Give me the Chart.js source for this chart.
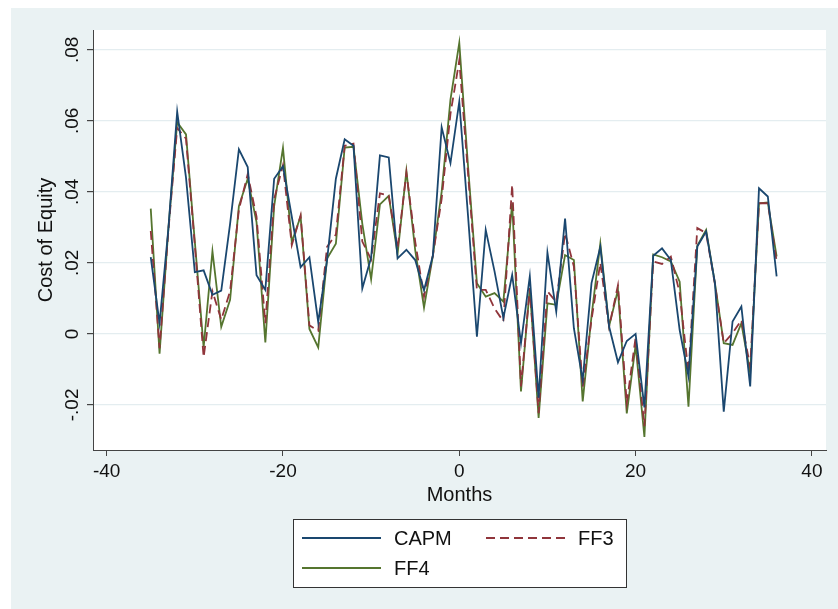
<!DOCTYPE html>
<html><head><meta charset="utf-8">
<script src="https://cdn.jsdelivr.net/npm/chart.js@4.4.0/dist/chart.umd.min.js"></script>
<style>html,body{margin:0;padding:0;background:#fff}canvas{display:block}</style>
</head><body>
<canvas id="c" width="838" height="609"></canvas>
<script>
const months = [-35,-34,-33,-32,-31,-30,-29,-28,-27,-26,-25,-24,-23,-22,-21,-20,-19,-18,-17,-16,-15,-14,-13,-12,-11,-10,-9,-8,-7,-6,-5,-4,-3,-2,-1,0,1,2,3,4,5,6,7,8,9,10,11,12,13,14,15,16,17,18,19,20,21,22,23,24,25,26,27,28,29,30,31,32,33,34,35,36];
const capm = [0.0216,0.003,0.0296,0.0626,0.044,0.0174,0.0179,0.011,0.0122,0.031,0.052,0.047,0.0165,0.0124,0.0437,0.0472,0.033,0.0188,0.0216,0.0033,0.0207,0.0437,0.0548,0.053,0.0128,0.0215,0.0503,0.0497,0.0213,0.0237,0.0208,0.0123,0.022,0.0582,0.0481,0.0654,0.033,-0.0008,0.0293,0.0176,0.0045,0.0166,-0.0026,0.0162,-0.018,0.0229,0.0063,0.0325,0.0016,-0.013,0.0143,0.0245,0.002,-0.008,-0.002,0.0,-0.0207,0.022,0.0241,0.0208,0.0011,-0.012,0.0246,0.0288,0.0143,-0.0219,0.0035,0.0077,-0.0148,0.041,0.0387,0.0162];
const ff3 = [0.029,-0.004,0.029,0.058,0.055,0.025,-0.0066,0.012,0.004,0.012,0.035,0.045,0.033,0.003,0.038,0.0475,0.025,0.0334,0.0024,0.0009,0.0245,0.028,0.053,0.0536,0.026,0.021,0.0396,0.039,0.024,0.0454,0.026,0.0105,0.022,0.038,0.062,0.077,0.045,0.0124,0.0124,0.0072,0.0035,0.042,-0.0148,0.0129,-0.0223,0.012,0.009,0.0284,0.019,-0.015,0.004,0.02,0.002,0.0137,-0.0195,-0.001,-0.026,0.0204,0.0197,0.0218,0.0115,-0.011,0.0298,0.0284,0.014,-0.0026,0.0002,0.0039,-0.0092,0.0368,0.0368,0.0204];
const ff4 = [0.0353,-0.0056,0.0296,0.0596,0.0562,0.026,-0.0038,0.0233,0.002,0.0096,0.036,0.0437,0.0315,-0.0024,0.036,0.0524,0.0259,0.0331,0.0014,-0.0038,0.0212,0.0254,0.0525,0.0527,0.031,0.0154,0.0365,0.0389,0.0225,0.0459,0.0236,0.0074,0.022,0.04,0.066,0.082,0.047,0.0143,0.0105,0.0115,0.0091,0.0368,-0.0162,0.0129,-0.0237,0.0086,0.0082,0.0222,0.0208,-0.019,0.005,0.0255,0.0022,0.0124,-0.0224,-0.0032,-0.029,0.0224,0.0216,0.0204,0.0147,-0.0205,0.0248,0.0293,0.0143,-0.0026,-0.0031,0.003,-0.011,0.0368,0.037,0.0218];
const seriesNames = ['CAPM','FF3','FF4'];
const xTickValues = [-40,-20,0,20,40];
const xTickLabels = ['-40','-20','0','20','40'];
const yTickValues = [-0.02,0,0.02,0.04,0.06,0.08];
const yTickLabels = ['-.02','0','.02','.04','.06','.08'];

const FONT = '"Liberation Sans", Arial, Helvetica, sans-serif';
const TXT = '#111';
const toPts = arr => months.map((m,i)=>({x:m,y:arr[i]}));

const bgPlugin = {
  id:'bg',
  beforeDraw(chart){
    const {ctx, chartArea:a} = chart;
    ctx.save();
    ctx.fillStyle='#ffffff'; ctx.fillRect(0,0,chart.width,chart.height);
    ctx.fillStyle='#EAF2F3'; ctx.fillRect(11,8,chart.width-11,chart.height-8);
    ctx.fillStyle='#ffffff'; ctx.fillRect(a.left,a.top,a.right-a.left,a.bottom-a.top);
    ctx.restore();
  },
  afterDraw(chart){
    const {ctx} = chart; const ys = chart.scales.y;
    ctx.save();
    ctx.font = '19px '+FONT; ctx.fillStyle=TXT; ctx.textAlign='center'; ctx.textBaseline='middle';
    ys.ticks.forEach((t,i)=>{
      const p = ys.getPixelForValue(t.value);
      ctx.save(); ctx.translate(73,p); ctx.rotate(-Math.PI/2); ctx.fillText(yTickLabels[i],0,0); ctx.restore();
    });
    // legend
    const L = {x:293.5,y:519.5,w:333,h:68};
    ctx.fillStyle='#fff'; ctx.fillRect(L.x,L.y,L.w,L.h);
    ctx.strokeStyle='#333'; ctx.lineWidth=1; ctx.strokeRect(L.x,L.y,L.w,L.h);
    const slots = [{lx:302,ly:538,tx:394},{lx:486,ly:538,tx:578},{lx:302,ly:568,tx:394}];
    chart.data.datasets.forEach((ds,i)=>{
      const s = slots[i];
      ctx.save();
      ctx.strokeStyle = ds.borderColor; ctx.lineWidth = 2.2;
      ctx.setLineDash(ds.borderDash || []);
      ctx.beginPath(); ctx.moveTo(s.lx,s.ly); ctx.lineTo(s.lx+79,s.ly); ctx.stroke();
      ctx.restore();
      ctx.font='20px '+FONT; ctx.fillStyle=TXT; ctx.textAlign='left'; ctx.textBaseline='middle';
      ctx.fillText(ds.label, s.tx, s.ly+1);
    });
    ctx.restore();
  }
};

const colors = ['#1a476f','#90353b','#55752f'];
const seriesData = [capm, ff3, ff4];

new Chart(document.getElementById('c').getContext('2d'), {
  type:'line',
  data:{datasets: seriesNames.map((n,i)=>({
    label:n, data:toPts(seriesData[i]), borderColor:colors[i], borderWidth:1.8,
    borderDash: i===1 ? [9,5] : [], pointRadius:0, tension:0, fill:false
  }))},
  options:{
    responsive:false, animation:false, devicePixelRatio:1,
    layout:{padding:{left:0,top:30,right:12,bottom:0}},
    plugins:{legend:{display:false}, tooltip:{enabled:false}},
    scales:{
      x:{type:'linear', min:-41.55, max:41.6,
        afterBuildTicks(s){ s.ticks = xTickValues.map(v=>({value:v})); },
        ticks:{callback:(v,i)=>xTickLabels[i], font:{size:19,family:FONT}, color:TXT, padding:4, maxRotation:0, minRotation:0, autoSkip:false},
        grid:{drawOnChartArea:false, drawTicks:true, tickLength:6, tickColor:'#444'},
        border:{display:true,color:'#444',width:1},
        title:{display:true,text:'Months',font:{size:20,family:FONT},color:TXT,padding:{top:0,bottom:102}},
        afterFit(s){ s.height = 159; }
      },
      y:{type:'linear', min:-0.0327, max:0.0856,
        afterBuildTicks(s){ s.ticks = yTickValues.map(v=>({value:v})); },
        ticks:{display:false},
        grid:{color:'#e4edf0', lineWidth:1.2, drawTicks:true, tickLength:6, tickColor:'#444'},
        border:{display:true,color:'#444',width:1},
        title:{display:true,text:'Cost of Equity',font:{size:20,family:FONT},color:TXT,padding:{top:34,bottom:0}},
        afterFit(s){ s.width = 93; }
      }
    }
  },
  plugins:[bgPlugin]
});
</script>
</body></html>
